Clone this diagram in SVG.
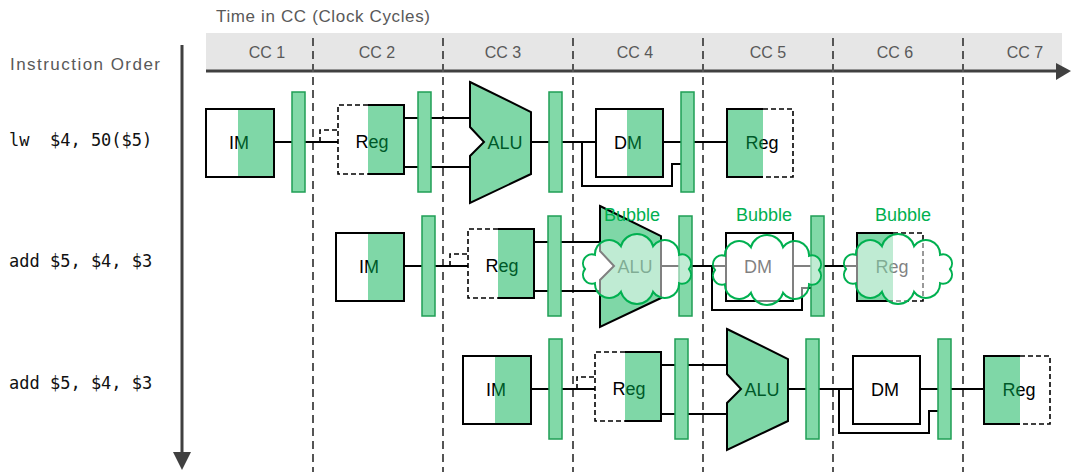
<svg xmlns="http://www.w3.org/2000/svg" width="1071" height="472" viewBox="0 0 1071 472">
  <defs>
    <style>
      .hdr { font-family: "Liberation Sans", Arial, sans-serif; font-size: 17px; fill: #595959; }
      .cc { font-family: "Liberation Sans", Arial, sans-serif; font-size: 16px; fill: #595959; text-anchor: middle; }
      .code { font-family: "DejaVu Sans Mono", "Liberation Mono", monospace; font-size: 17px; fill: #111; white-space: pre; }
      .lbl { font-family: "Liberation Sans", Arial, sans-serif; font-size: 18px; fill: #000; text-anchor: middle; }
      .bub { font-family: "Liberation Sans", Arial, sans-serif; font-size: 18px; fill: #00B050; text-anchor: middle; }
      .box { fill: none; stroke: #000; stroke-width: 2; }
      .boxd { fill: none; stroke: #000; stroke-width: 1.6; stroke-dasharray: 5 3; }
      .hl { fill: #00B050; fill-opacity: 0.5; stroke: none; }
      .alu { fill: #00B050; fill-opacity: 0.5; stroke: #000; stroke-width: 2; stroke-linejoin: miter; }
      .bar { fill: #82d9a8; stroke: #1f9e55; stroke-width: 1.5; }
      .wire { fill: none; stroke: #000; stroke-width: 2; }
      .wired { fill: none; stroke: #000; stroke-width: 1.6; stroke-dasharray: 5 3; }
      .grid { stroke: #555; stroke-width: 2; stroke-dasharray: 8 5; }
      .axis { stroke: #404040; stroke-width: 3; fill: none; }
      .cloud { fill: #fff; fill-opacity: 0.5; stroke: #00B050; stroke-width: 2; }
    </style>
    <!-- cloud outline: ten arcs around an ellipse, centred on the origin -->
    <path id="cloud" d="M52,0 A8.97,8.97 0 0 1 42.07,14.11 A14.26,14.26 0 0 1 16.07,22.83 A16.71,16.71 0 0 1 -16.07,22.83 A14.26,14.26 0 0 1 -42.07,14.11 A8.97,8.97 0 0 1 -52,0 A8.97,8.97 0 0 1 -42.07,-14.11 A14.26,14.26 0 0 1 -16.07,-22.83 A16.71,16.71 0 0 1 16.07,-22.83 A14.26,14.26 0 0 1 42.07,-14.11 A8.97,8.97 0 0 1 52,0 Z"/>
  </defs>

  <rect width="1071" height="472" fill="#fff"/>

  <!-- time axis header -->
  <g id="time-axis">
    <text class="hdr" x="216" y="22" textLength="214">Time in CC (Clock Cycles)</text>
    <rect x="206" y="33" width="856" height="38" fill="#e6e6e6"/>
    <line class="axis" x1="206" y1="71" x2="1058" y2="71"/>
    <polygon points="1056,63 1071,71 1056,80" fill="#404040"/>
    <text class="cc" x="267" y="58">CC 1</text>
    <text class="cc" x="377" y="58">CC 2</text>
    <text class="cc" x="503" y="58">CC 3</text>
    <text class="cc" x="635" y="58">CC 4</text>
    <text class="cc" x="768" y="58">CC 5</text>
    <text class="cc" x="895" y="58">CC 6</text>
    <text class="cc" x="1025" y="58">CC 7</text>
  </g>

  <!-- clock cycle boundaries -->
  <g id="cycle-grid">
    <line class="grid" x1="313" y1="38" x2="313" y2="472"/>
    <line class="grid" x1="443" y1="38" x2="443" y2="472"/>
    <line class="grid" x1="573" y1="38" x2="573" y2="472"/>
    <line class="grid" x1="703" y1="38" x2="703" y2="472"/>
    <line class="grid" x1="833" y1="38" x2="833" y2="472"/>
    <line class="grid" x1="963" y1="38" x2="963" y2="472"/>
  </g>

  <!-- instruction order axis -->
  <g id="order-axis">
    <text class="hdr" x="10" y="70" textLength="150">Instruction Order</text>
    <line class="axis" x1="182" y1="45" x2="182" y2="455"/>
    <polygon points="173,452 191,452 182,470" fill="#404040"/>
    <text class="code" x="9" y="146">lw  $4, 50($5)</text>
    <text class="code" x="9" y="267">add $5, $4, $3</text>
    <text class="code" x="9" y="389">add $5, $4, $3</text>
  </g>

  <!-- datapath wiring for each instruction -->
  <g id="connectors">
    <g id="wires-lw">
      <path class="wire" d="M274,142 H292 M305,142 H338 M404,118 H470 M404,167 H470 M531,142 H549 M562,142 H596 M582,142 V186 H672 V164 H681 M663,142 H681 M694,142 H727"/>
      <path class="wired" d="M320,142 V130 H338"/>
    </g>
    <g id="wires-add1" transform="translate(130,124)">
      <path class="wire" d="M274,142 H292 M305,142 H338 M404,118 H470 M404,167 H470 M531,142 H549 M562,142 H596 M582,142 V186 H672 V164 H681 M663,142 H681 M694,142 H727"/>
      <path class="wired" d="M320,142 V130 H338"/>
    </g>
    <g id="wires-add2" transform="translate(257,247)">
      <path class="wire" d="M274,142 H292 M305,142 H338 M404,118 H470 M404,167 H470 M531,142 H549 M562,142 H596 M582,142 V186 H672 V164 H681 M663,142 H681 M694,142 H727"/>
      <path class="wired" d="M320,142 V130 H338"/>
    </g>
  </g>

  <!-- lw $4, 50($5) -->
  <g id="row-lw">
    <g id="lw-im">
      <rect x="206" y="109" width="68" height="68" fill="#fff"/>
      <text class="lbl" x="239" y="149">IM</text>
      <rect class="hl" x="238" y="109" width="36" height="68"/>
      <rect class="box" x="206" y="109" width="68" height="68"/>
    </g>
    <rect id="lw-if-id" class="bar" x="292" y="92" width="13" height="100"/>
    <g id="lw-reg-read">
      <rect x="338" y="105" width="66" height="69" fill="#fff"/>
      <text class="lbl" x="372" y="148">Reg</text>
      <rect class="hl" x="368" y="105" width="36" height="69"/>
      <path class="boxd" d="M368,105 H338 V174 H368"/>
      <path class="box" d="M368,105 H404 V174 H368"/>
    </g>
    <rect id="lw-id-ex" class="bar" x="418" y="92" width="13" height="100"/>
    <g id="lw-alu">
      <text class="lbl" x="505" y="149">ALU</text>
      <polygon class="alu" points="470,82 531,112 531,174 470,203 470,156 484,142 470,127"/>
    </g>
    <rect id="lw-ex-mem" class="bar" x="549" y="92" width="13" height="100"/>
    <g id="lw-dm">
      <rect x="596" y="109" width="67" height="68" fill="#fff"/>
      <text class="lbl" x="628" y="149">DM</text>
      <rect class="hl" x="627" y="109" width="36" height="68"/>
      <rect class="box" x="596" y="109" width="67" height="68"/>
    </g>
    <rect id="lw-mem-wb" class="bar" x="681" y="92" width="13" height="100"/>
    <g id="lw-reg-write">
      <rect x="727" y="109" width="66" height="68" fill="#fff"/>
      <text class="lbl" x="762" y="149">Reg</text>
      <rect class="hl" x="727" y="109" width="36" height="68"/>
      <path class="box" d="M763,109 H727 V177 H763"/>
      <path class="boxd" d="M763,109 H793 V177 H763"/>
    </g>
  </g>

  <!-- add $5, $4, $3 (stalled) -->
  <g id="row-add1" transform="translate(130,124)">
    <g id="add1-im">
      <rect x="206" y="109" width="68" height="68" fill="#fff"/>
      <text class="lbl" x="239" y="149">IM</text>
      <rect class="hl" x="238" y="109" width="36" height="68"/>
      <rect class="box" x="206" y="109" width="68" height="68"/>
    </g>
    <rect id="add1-if-id" class="bar" x="292" y="92" width="13" height="100"/>
    <g id="add1-reg-read">
      <rect x="338" y="105" width="66" height="69" fill="#fff"/>
      <text class="lbl" x="372" y="148">Reg</text>
      <rect class="hl" x="368" y="105" width="36" height="69"/>
      <path class="boxd" d="M368,105 H338 V174 H368"/>
      <path class="box" d="M368,105 H404 V174 H368"/>
    </g>
    <rect id="add1-id-ex" class="bar" x="418" y="92" width="13" height="100"/>
    <g id="add1-alu">
      <text class="lbl" x="505" y="149">ALU</text>
      <polygon class="alu" points="470,82 531,112 531,174 470,203 470,156 484,142 470,127"/>
    </g>
    <rect id="add1-ex-mem" class="bar" x="549" y="92" width="13" height="100"/>
    <g id="add1-dm">
      <rect x="596" y="109" width="67" height="68" fill="#fff"/>
      <text class="lbl" x="628" y="149">DM</text>
      <rect class="box" x="596" y="109" width="67" height="68"/>
    </g>
    <rect id="add1-mem-wb" class="bar" x="681" y="92" width="13" height="100"/>
    <g id="add1-reg-write">
      <rect x="727" y="109" width="66" height="68" fill="#fff"/>
      <text class="lbl" x="762" y="149">Reg</text>
      <rect class="hl" x="727" y="109" width="36" height="68"/>
      <path class="box" d="M763,109 H727 V177 H763"/>
      <path class="boxd" d="M763,109 H793 V177 H763"/>
    </g>
  </g>

  <!-- add $5, $4, $3 -->
  <g id="row-add2" transform="translate(257,247)">
    <g id="add2-im">
      <rect x="206" y="109" width="68" height="68" fill="#fff"/>
      <text class="lbl" x="239" y="149">IM</text>
      <rect class="hl" x="238" y="109" width="36" height="68"/>
      <rect class="box" x="206" y="109" width="68" height="68"/>
    </g>
    <rect id="add2-if-id" class="bar" x="292" y="92" width="13" height="100"/>
    <g id="add2-reg-read">
      <rect x="338" y="105" width="66" height="69" fill="#fff"/>
      <text class="lbl" x="372" y="148">Reg</text>
      <rect class="hl" x="368" y="105" width="36" height="69"/>
      <path class="boxd" d="M368,105 H338 V174 H368"/>
      <path class="box" d="M368,105 H404 V174 H368"/>
    </g>
    <rect id="add2-id-ex" class="bar" x="418" y="92" width="13" height="100"/>
    <g id="add2-alu">
      <text class="lbl" x="505" y="149">ALU</text>
      <polygon class="alu" points="470,82 531,112 531,174 470,203 470,156 484,142 470,127"/>
    </g>
    <rect id="add2-ex-mem" class="bar" x="549" y="92" width="13" height="100"/>
    <g id="add2-dm">
      <rect x="596" y="109" width="67" height="68" fill="#fff"/>
      <text class="lbl" x="628" y="149">DM</text>
      <rect class="box" x="596" y="109" width="67" height="68"/>
    </g>
    <rect id="add2-mem-wb" class="bar" x="681" y="92" width="13" height="100"/>
    <g id="add2-reg-write">
      <rect x="727" y="109" width="66" height="68" fill="#fff"/>
      <text class="lbl" x="762" y="149">Reg</text>
      <rect class="hl" x="727" y="109" width="36" height="68"/>
      <path class="box" d="M763,109 H727 V177 H763"/>
      <path class="boxd" d="M763,109 H793 V177 H763"/>
    </g>
  </g>

  <!-- pipeline bubbles -->
  <g id="bubble-ex">
    <use href="#cloud" class="cloud" transform="translate(637,269)"/>
    <text class="bub" x="632" y="221">Bubble</text>
  </g>
  <g id="bubble-mem">
    <use href="#cloud" class="cloud" transform="translate(767,270)"/>
    <text class="bub" x="764" y="221">Bubble</text>
  </g>
  <g id="bubble-wb">
    <use href="#cloud" class="cloud" transform="translate(898,269)"/>
    <text class="bub" x="903" y="221">Bubble</text>
  </g>
</svg>
